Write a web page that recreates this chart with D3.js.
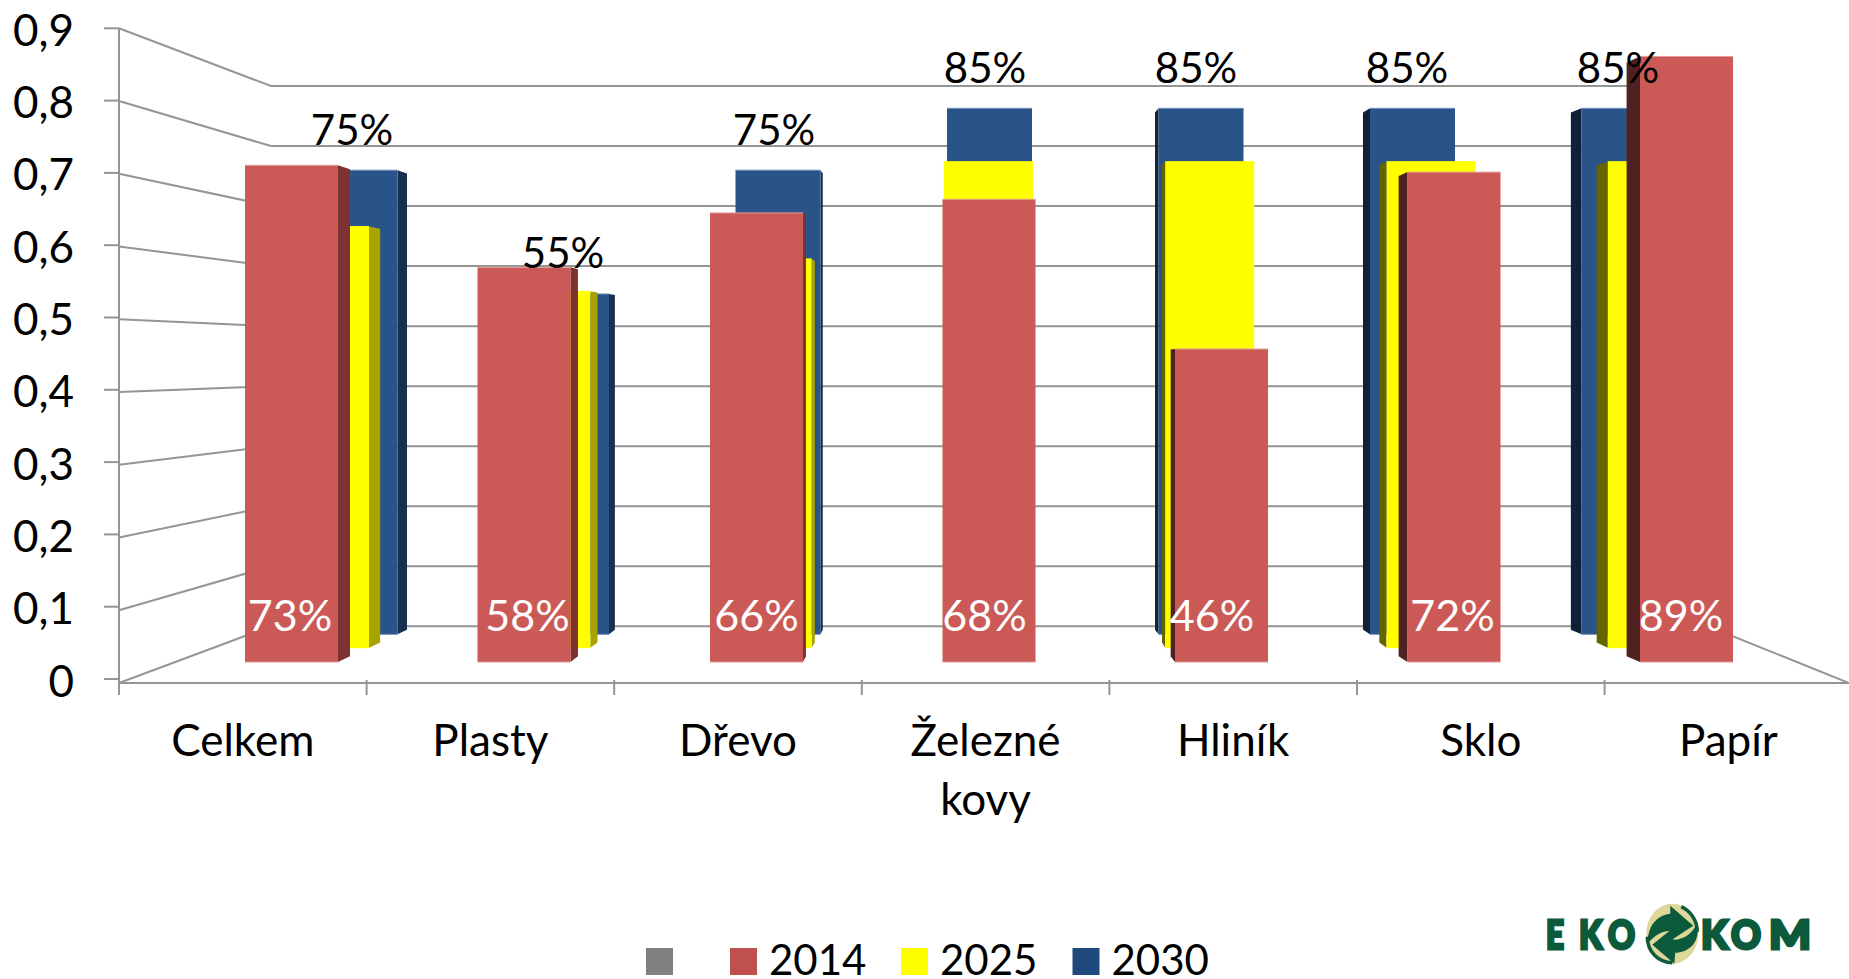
<!DOCTYPE html>
<html lang="cs">
<head>
<meta charset="utf-8">
<script src="https://cdnjs.cloudflare.com/ajax/libs/d3/7.8.5/d3.min.js"></script>
<style>
html,body{margin:0;padding:0;background:#fff;overflow:hidden}
svg{display:block}
text{font-family:Lato,"Open Sans",sans-serif;font-size:42px;fill:#000}
</style>
</head>
<body>
<svg id="chart" width="1849" height="979"></svg>
<script>
// ---- data ----
const categories = ["Celkem", "Plasty", "Dřevo", "Železné kovy", "Hliník", "Sklo", "Papír"];
const values2014 = [0.73, 0.58, 0.66, 0.68, 0.46, 0.72, 0.89];
const values2025 = [0.65, 0.55, 0.60, 0.75, 0.75, 0.75, 0.75];
const values2030 = [0.75, 0.55, 0.75, 0.85, 0.85, 0.85, 0.85];
const yTicks = [0, 0.1, 0.2, 0.3, 0.4, 0.5, 0.6, 0.7, 0.8, 0.9];
const legendNames = ["", "2014", "2025", "2030"];

// ---- geometry & style ----
const svg = d3.select("#chart");
const GRID = "#959595";
const pct = d3.format(".0%");
const comma = v => String(v).replace(".", ",");

// wall / floor scales (perspective box)
const yAxisLabel = d3.scaleLinear().domain([0, 0.9]).range([679, 28.3]);
const yFrontWall = d3.scaleLinear().domain([0, 0.9]).range([683, 28.3]);
const yBackWall  = d3.scaleLinear().domain([0, 0.9]).range([626.3, 86]);
const boxLeft = 119, boxRight = 1849, backLeft = 271, backRight = 1708, floorY = 683;

const xAxis = d3.scaleBand().domain(categories).range([boxLeft, boxLeft + 7 * 247.6]);
const xTopLabel = d3.scalePoint().domain(categories).range([352, 1618]);

function layerScales(vals, cfg) {
  return Object.assign({vals}, cfg, {
    x: d3.scaleBand().domain(categories)
        .range([cfg.x0, cfg.x0 + 6 * cfg.step + cfg.w])
        .paddingInner(1 - cfg.w / cfg.step).paddingOuter(0),
    y: d3.scaleLinear().domain([0, 1]).range([cfg.base, cfg.base - cfg.unit])
  });
}
// back-to-front depth layers
const blue = layerScales(values2030, {x0:312.5, step:211.5, w:85, base:634.3, unit:618.8, k:.017, vx:956, vy:360,
  face:"#2A5488", sideR:"#17304F", sideL:"#0F2139", edge:"#6C8DBB"});
const yellow = layerScales(values2025, {x0:280, step:221.3, w:89, base:647.7, unit:648, k:.018, vx:989, vy:355,
  face:"#FFFF00", sideR:"#A8A300", sideL:"#666400", edge:"#FFFF00"});
const red = layerScales(values2014, {x0:245, step:232.5, w:93, base:662, unit:680.4, k:.0195, vx:953, vy:370,
  face:"#CB5A56", sideR:"#7D3130", sideL:"#4F2120", edge:"#E29C99"});

// ---- walls ----
const walls = svg.append("g").attr("fill", "none").attr("stroke", GRID).attr("stroke-width", 2);
walls.selectAll("polyline.g").data(yTicks).join("polyline").attr("class", "g")
  .attr("points", d => {
    const pts = [[boxLeft, yFrontWall(d)], [backLeft, yBackWall(d)], [backRight, yBackWall(d)]];
    return pts.map(p => p.join(",")).join(" ");
  });
walls.append("line").attr("x1", backRight).attr("y1", yBackWall(0)).attr("x2", boxRight).attr("y2", floorY);
walls.append("line").attr("x1", boxLeft).attr("x2", boxLeft).attr("y1", yFrontWall(0.9)).attr("y2", 695);
walls.append("line").attr("x1", boxLeft).attr("x2", boxRight).attr("y1", floorY).attr("y2", floorY);

// y ticks and labels
walls.selectAll("line.yt").data(yTicks).join("line").attr("class", "yt")
  .attr("x1", 104).attr("x2", boxLeft)
  .attr("y1", d => yAxisLabel(d)).attr("y2", d => yAxisLabel(d));
svg.append("g").selectAll("text").data(yTicks).join("text")
  .attr("x", 74).attr("text-anchor", "end").style("font-size", "44px")
  .attr("y", d => yAxisLabel(d) + 17.5)
  .text(d => comma(d));

// x ticks
walls.selectAll("line.xt").data(categories.slice(1)).join("line").attr("class", "xt")
  .attr("x1", d => xAxis(d)).attr("x2", d => xAxis(d)).attr("y1", 680).attr("y2", 695);

// ---- bars ----
function drawLayer(L) {
  const g = svg.append("g");
  categories.forEach((c, i) => {
    const left = L.x(c), w = L.x.bandwidth(), right = left + w;
    const top = L.y(L.vals[i]), bot = L.y(0);
    let edge = null, col = null;
    if (right < L.vx) { edge = right; col = L.sideR; }
    else if (left > L.vx) { edge = left; col = L.sideL; }
    if (edge !== null) {
      const ex = edge + L.k * (L.vx - edge);
      const back = y => y + L.k * (L.vy - y);
      g.append("polygon").attr("fill", col)
        .attr("points", [[edge, top], [ex, back(top)], [ex, back(bot)], [edge, bot]].map(p => p.join(",")).join(" "));
    }
    g.append("rect").attr("x", left).attr("y", top).attr("width", w).attr("height", bot - top).attr("fill", L.face);
    [top, bot].forEach(y => g.append("line").attr("x1", left).attr("x2", right).attr("y1", y).attr("y2", y)
      .attr("stroke", L.edge).attr("stroke-width", 1));
  });
}
drawLayer(blue);
drawLayer(yellow);
drawLayer(red);

// ---- value labels ----
svg.append("g").selectAll("text").data(categories).join("text")
  .attr("text-anchor", "middle")
  .attr("x", c => xTopLabel(c))
  .attr("y", (c, i) => blue.y(values2030[i]) - 25.5)
  .text((c, i) => pct(values2030[i]));

const whiteNudge = [-1.5, 3.5, 0, -4.5, -9.5, -1.5, -5.5];
svg.append("g").selectAll("text").data(categories).join("text")
  .attr("text-anchor", "middle").style("fill", "#fff").style("font-size", "43px")
  .attr("x", (c, i) => red.x(c) + red.x.bandwidth() / 2 + whiteNudge[i])
  .attr("y", 630.5)
  .text((c, i) => pct(values2014[i]));

// ---- category labels ----
const catG = svg.append("g");
categories.forEach(c => {
  const words = c.split(" ");
  words.forEach((w, j) => {
    catG.append("text").attr("text-anchor", "middle").style("font-size", "44px")
      .attr("x", xAxis(c) + xAxis.bandwidth() / 2)
      .attr("y", 756 + j * 58.5).text(w);
  });
});

// ---- legend ----
const legendColors = ["#808080", "#C0504D", "#FFFF00", "#1F497D"];
const legendX = d3.scaleOrdinal().domain(legendNames.map((d, i) => i)).range([646, 730, 901, 1072.5]);
const lg = svg.append("g").selectAll("g").data(legendNames).join("g")
  .attr("transform", (d, i) => `translate(${legendX(i)},948)`);
lg.append("rect").attr("width", 27).attr("height", 27).attr("fill", (d, i) => legendColors[i]);
lg.append("text").attr("x", 39).attr("y", 27).text(d => d);

// ---- logo ----
const logo = svg.append("g");
const GREEN = "#0B5A3B";
const logoLetters = ["E", "K", "O", "K", "O", "M"];
const logoLeft = [1546, 1579, 1608, 1701, 1731, 1769];
const logoWidth = [18, 24, 27, 28, 30, 42];
logoLetters.forEach((t, i) => {
  const el = logo.append("text").text(t)
    .style("font-weight", 900).style("font-size", "39px")
    .style("fill", GREEN).style("stroke", GREEN).style("stroke-width", 3);
  const b = el.node().getBBox();
  el.attr("transform", `translate(${logoLeft[i] - b.x * logoWidth[i] / b.width},948.5) scale(${logoWidth[i] / b.width},1)`);
});
const mark = logo.append("g").attr("transform", "translate(1672.3,933.7)");
mark.append("ellipse").attr("rx", 26).attr("ry", 30).attr("fill", "#DDD79A");
mark.append("path").attr("fill", GREEN)
  .attr("d", "M-25,10 C-24,-12 -12,-19 -2,-20 L-2,-28 L21,-8 L-2,7 L-2,-3 C-9,-3 -16,0 -25,10 Z");
mark.append("path").attr("fill", GREEN)
  .attr("d", "M25,-12 C29,11 14,19 3,19 L2,30 L-20,11 L1,-6 L1,6 C13,6 22,-2 25,-12 Z");
mark.append("path").attr("fill", "none").attr("stroke", GREEN).attr("stroke-width", 3.5)
  .attr("d", "M-25,3 C-25,18 -14,29 0,29");
mark.append("path").attr("fill", "none").attr("stroke", GREEN).attr("stroke-width", 3.5)
  .attr("d", "M9,-27 C18,-23 25,-13 25,-2");
</script>
</body>
</html>
